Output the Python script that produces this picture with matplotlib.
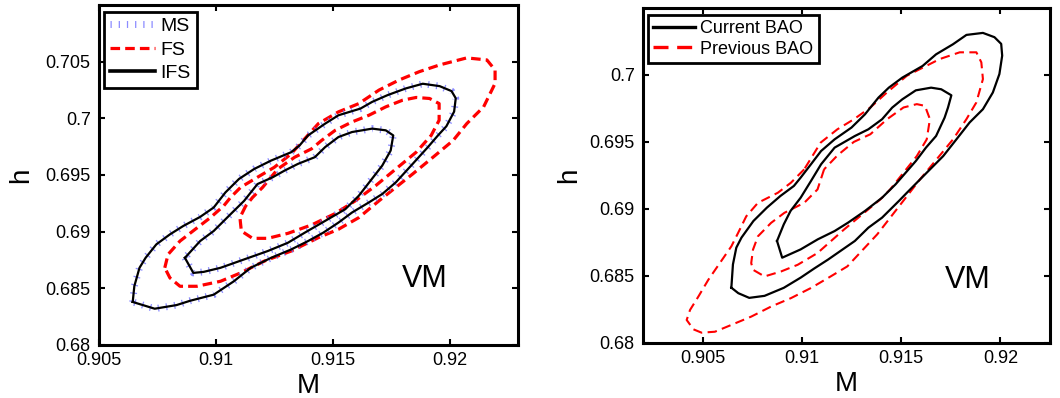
import matplotlib
matplotlib.use('Agg')
import matplotlib.pyplot as plt

plt.rcParams['font.family'] = ['Liberation Sans', 'DejaVu Sans']

# ---------------- Left panel data (M, h) ----------------
ifs_outer_M = [0.90644, 0.90651, 0.90673, 0.90699, 0.90745, 0.90803, 0.90860, 0.90932, 0.90990, 0.91040,
               0.91098, 0.91163, 0.91235, 0.91321, 0.91357, 0.91393, 0.91466, 0.91523, 0.91617, 0.91667,
               0.91732, 0.91811, 0.91883, 0.91955, 0.92006, 0.92024, 0.92017, 0.91984, 0.91948, 0.91905,
               0.91840, 0.91768, 0.91710, 0.91653, 0.91581, 0.91523, 0.91458, 0.91393, 0.91321, 0.91235,
               0.91148, 0.91076, 0.90990, 0.90889, 0.90831, 0.90738, 0.90659]
ifs_outer_h = [0.68380, 0.68520, 0.68681, 0.68769, 0.68888, 0.68976, 0.69050, 0.69130, 0.69213, 0.69346,
               0.69465, 0.69553, 0.69627, 0.69701, 0.69761, 0.69849, 0.69953, 0.70027, 0.70086, 0.70145,
               0.70204, 0.70264, 0.70305, 0.70284, 0.70240, 0.70177, 0.70059, 0.69930, 0.69849, 0.69746,
               0.69598, 0.69435, 0.69332, 0.69258, 0.69169, 0.69080, 0.68991, 0.68917, 0.68843, 0.68769,
               0.68681, 0.68562, 0.68444, 0.68390, 0.68352, 0.68320, 0.68370]

ifs_inner_M = [0.90867, 0.90903, 0.90947, 0.91019, 0.91120, 0.91221, 0.91307, 0.91379, 0.91466, 0.91552,
               0.91610, 0.91660, 0.91710, 0.91746, 0.91757, 0.91725, 0.91667, 0.91581, 0.91523, 0.91466,
               0.91422, 0.91350, 0.91293, 0.91242, 0.91177, 0.91120, 0.91062, 0.90990, 0.90932]
ifs_inner_h = [0.68769, 0.68636, 0.68645, 0.68681, 0.68755, 0.68829, 0.68902, 0.68991, 0.69095, 0.69198,
               0.69317, 0.69450, 0.69583, 0.69716, 0.69849, 0.69894, 0.69909, 0.69879, 0.69835, 0.69746,
               0.69657, 0.69598, 0.69539, 0.69480, 0.69420, 0.69272, 0.69154, 0.69006, 0.68917]

# MS contours coincide with IFS contours
ms_outer_M, ms_outer_h = ifs_outer_M, ifs_outer_h
ms_inner_M, ms_inner_h = ifs_inner_M, ifs_inner_h

fs_outer_M = [0.90781, 0.90795, 0.90846, 0.90911, 0.90976, 0.91033, 0.91062, 0.91105, 0.91177, 0.91249,
              0.91321, 0.91379, 0.91437, 0.91523, 0.91610, 0.91696, 0.91782, 0.91869, 0.91955, 0.92071,
              0.92157, 0.92192, 0.92192, 0.92143, 0.92071, 0.92013, 0.91927, 0.91840, 0.91768, 0.91696,
              0.91610, 0.91523, 0.91437, 0.91321, 0.91206, 0.91105, 0.91019, 0.90918, 0.90846, 0.90803]
fs_outer_h = [0.68681, 0.68799, 0.68917, 0.69021, 0.69124, 0.69228, 0.69302, 0.69391, 0.69480, 0.69568,
              0.69687, 0.69820, 0.69953, 0.70057, 0.70130, 0.70249, 0.70338, 0.70412, 0.70471, 0.70533,
              0.70515, 0.70426, 0.70308, 0.70101, 0.69953, 0.69805, 0.69657, 0.69509, 0.69391, 0.69272,
              0.69124, 0.69021, 0.68947, 0.68829, 0.68740, 0.68636, 0.68562, 0.68518, 0.68518, 0.68592]

fs_inner_M = [0.91127, 0.91102, 0.91108, 0.91156, 0.91221, 0.91307, 0.91408, 0.91509, 0.91595, 0.91682,
              0.91768, 0.91855, 0.91919, 0.91953, 0.91953, 0.91912, 0.91855, 0.91797, 0.91725, 0.91653,
              0.91581, 0.91509, 0.91451, 0.91408, 0.91336, 0.91264, 0.91199, 0.91156]
fs_inner_h = [0.69228, 0.69124, 0.69006, 0.68941, 0.68941, 0.68985, 0.69059, 0.69160, 0.69272, 0.69406,
              0.69553, 0.69701, 0.69849, 0.69983, 0.70130, 0.70175, 0.70184, 0.70160, 0.70101, 0.70027,
              0.69968, 0.69894, 0.69805, 0.69731, 0.69657, 0.69553, 0.69391, 0.69302]

# ---------------- Right panel data (M, h) ----------------
cur_outer_M = [0.90645, 0.90653, 0.90670, 0.90696, 0.90756, 0.90824, 0.90892, 0.90960, 0.90994, 0.91046,
               0.91097, 0.91165, 0.91250, 0.91318, 0.91386, 0.91438, 0.91506, 0.91608, 0.91676, 0.91761,
               0.91829, 0.91912, 0.91970, 0.92004, 0.92009, 0.91995, 0.91962, 0.91912, 0.91845, 0.91779,
               0.91712, 0.91629, 0.91529, 0.91489, 0.91404, 0.91335, 0.91267, 0.91199, 0.91131, 0.91063,
               0.90994, 0.90909, 0.90812, 0.90735, 0.90680]
cur_outer_h = [0.68411, 0.68585, 0.68710, 0.68785, 0.68909, 0.69009, 0.69096, 0.69171, 0.69233, 0.69333,
               0.69432, 0.69519, 0.69607, 0.69706, 0.69831, 0.69905, 0.69980, 0.70067, 0.70154, 0.70229,
               0.70299, 0.70314, 0.70282, 0.70232, 0.70144, 0.70007, 0.69869, 0.69744, 0.69645, 0.69520,
               0.69394, 0.69270, 0.69120, 0.69059, 0.68934, 0.68859, 0.68760, 0.68690, 0.68620, 0.68555,
               0.68486, 0.68410, 0.68350, 0.68335, 0.68370]

cur_inner_M = [0.90875, 0.90901, 0.90994, 0.91080, 0.91165, 0.91233, 0.91318, 0.91404, 0.91472, 0.91523,
               0.91574, 0.91625, 0.91676, 0.91719, 0.91736, 0.91753, 0.91702, 0.91651, 0.91574, 0.91506,
               0.91455, 0.91404, 0.91335, 0.91267, 0.91165, 0.91097, 0.91046, 0.90994, 0.90943, 0.90909]
cur_inner_h = [0.68760, 0.68635, 0.68697, 0.68772, 0.68834, 0.68897, 0.68984, 0.69083, 0.69183, 0.69270,
               0.69357, 0.69457, 0.69544, 0.69681, 0.69756, 0.69848, 0.69893, 0.69905, 0.69885, 0.69818,
               0.69756, 0.69669, 0.69594, 0.69544, 0.69457, 0.69333, 0.69208, 0.69083, 0.68984, 0.68884]

prev_outer_M = [0.91012, 0.90945, 0.90879, 0.90779, 0.90720, 0.90679, 0.90645, 0.90587, 0.90529, 0.90479,
                0.90437, 0.90420, 0.90454, 0.90495, 0.90562, 0.90645, 0.90745, 0.90845, 0.90945, 0.91045,
                0.91145, 0.91229, 0.91380, 0.91529, 0.91595, 0.91679, 0.91762, 0.91829, 0.91879, 0.91912,
                0.91904, 0.91879, 0.91795, 0.91695, 0.91595, 0.91529, 0.91429, 0.91345, 0.91262, 0.91179,
                0.91095]
prev_outer_h = [0.69295, 0.69195, 0.69120, 0.69045, 0.68944, 0.68820, 0.68720, 0.68595, 0.68470, 0.68345,
                0.68245, 0.68170, 0.68100, 0.68075, 0.68082, 0.68133, 0.68195, 0.68270, 0.68333, 0.68408,
                0.68495, 0.68570, 0.68810, 0.69094, 0.69220, 0.69370, 0.69520, 0.69670, 0.69795, 0.69969,
                0.70094, 0.70169, 0.70169, 0.70119, 0.70044, 0.69994, 0.69870, 0.69757, 0.69669, 0.69594,
                0.69495]

prev_inner_M = [0.91112, 0.91079, 0.91012, 0.90912, 0.90845, 0.90779, 0.90754, 0.90745, 0.90754, 0.90812,
                0.90895, 0.90979, 0.91079, 0.91212, 0.91395, 0.91445, 0.91512, 0.91579, 0.91629, 0.91645,
                0.91620, 0.91579, 0.91512, 0.91429, 0.91345, 0.91262, 0.91180]
prev_inner_h = [0.69295, 0.69145, 0.69045, 0.68970, 0.68895, 0.68795, 0.68695, 0.68595, 0.68545, 0.68495,
                0.68532, 0.68582, 0.68670, 0.68845, 0.69070, 0.69145, 0.69270, 0.69394, 0.69519, 0.69670,
                0.69769, 0.69782, 0.69757, 0.69669, 0.69557, 0.69500, 0.69400]

# ---------------- Ticks ----------------
left_xticks = [0.905, 0.91, 0.915, 0.92]
left_xticklabels = ['0.905', '0.91', '0.915', '0.92']
left_yticks = [0.68, 0.685, 0.69, 0.695, 0.70, 0.705]
left_yticklabels = ['0.68', '0.685', '0.69', '0.695', '0.7', '0.705']
right_xticks = [0.905, 0.91, 0.915, 0.92]
right_xticklabels = ['0.905', '0.91', '0.915', '0.92']
right_yticks = [0.68, 0.685, 0.69, 0.695, 0.70]
right_yticklabels = ['0.68', '0.685', '0.69', '0.695', '0.7']


def closed(a):
    return list(a) + [a[0]]


fig = plt.figure(figsize=(10.6, 3.98), dpi=100)
ax1 = fig.add_axes([0.0934, 0.1332, 0.3953, 0.8543])
ax2 = fig.add_axes([0.6066, 0.1389, 0.3840, 0.8410])

RED = '#ff0000'
BLUE = '#6f6fff'

# Left panel
fs_kw = dict(color=RED, lw=2.3, dashes=(3.0, 1.6), zorder=2)
ax1.plot(closed(fs_outer_M), closed(fs_outer_h), label='FS', **fs_kw)
ax1.plot(closed(fs_inner_M), closed(fs_inner_h), **fs_kw)
ms_kw = dict(color=BLUE, lw=5.0, dashes=(0.18, 1.0), alpha=0.8, zorder=3)
ax1.plot(closed(ms_outer_M), closed(ms_outer_h), label='MS', **ms_kw)
ax1.plot(closed(ms_inner_M), closed(ms_inner_h), **ms_kw)
ifs_kw = dict(color='black', lw=1.6, zorder=4)
ax1.plot(closed(ifs_outer_M), closed(ifs_outer_h), label='IFS', **ifs_kw)
ax1.plot(closed(ifs_inner_M), closed(ifs_inner_h), **ifs_kw)

ax1.set_xlim(0.905, 0.9229)
ax1.set_ylim(0.68, 0.710)
ax1.set_xticks(left_xticks)
ax1.set_xticklabels(left_xticklabels)
ax1.set_yticks(left_yticks)
ax1.set_yticklabels(left_yticklabels)
ax1.text(0.91891, 0.68586, 'VM', fontsize=22, ha='center', va='center')

h1, l1 = ax1.get_legend_handles_labels()
order = [l1.index('MS'), l1.index('FS'), l1.index('IFS')]
leg1 = ax1.legend([h1[i] for i in order], [l1[i] for i in order], loc='upper left',
                  bbox_to_anchor=(0.012, 0.98), borderaxespad=0, fontsize=14, handlelength=2.3,
                  handletextpad=0.3, labelspacing=0.3, borderpad=0.3, fancybox=False, framealpha=1)
leg1.get_frame().set_edgecolor('black')
leg1.get_frame().set_linewidth(2.0)
for ln in leg1.get_lines():
    if ln.get_label() == 'IFS':
        ln.set_linewidth(2.6)

# Right panel
ax2.plot(closed(cur_outer_M), closed(cur_outer_h), color='black', lw=1.6, label='Current BAO', zorder=3)
ax2.plot(closed(cur_inner_M), closed(cur_inner_h), color='black', lw=1.6, zorder=3)
prev_kw = dict(color=RED, lw=1.5, dashes=(4.5, 2.6), zorder=2)
ax2.plot(closed(prev_outer_M), closed(prev_outer_h), label='Previous BAO', **prev_kw)
ax2.plot(closed(prev_inner_M), closed(prev_inner_h), **prev_kw)

ax2.set_xlim(0.902, 0.9225)
ax2.set_ylim(0.68, 0.705)
ax2.set_xticks(right_xticks)
ax2.set_xticklabels(right_xticklabels)
ax2.set_yticks(right_yticks)
ax2.set_yticklabels(right_yticklabels)
ax2.text(0.91833, 0.68468, 'VM', fontsize=22, ha='center', va='center')

leg2 = ax2.legend(loc='upper left', bbox_to_anchor=(0.012, 0.98), borderaxespad=0, fontsize=13,
                  handlelength=2.3, handletextpad=0.3, labelspacing=0.2, borderpad=0.3,
                  fancybox=False, framealpha=1)
leg2.get_frame().set_edgecolor('black')
leg2.get_frame().set_linewidth(2.0)
for ln in leg2.get_lines():
    ln.set_linewidth(2.4)

for ax in (ax1, ax2):
    for sp in ax.spines.values():
        sp.set_linewidth(2.2)
    ax.tick_params(direction='in', top=True, right=True, length=4, width=1.5, labelsize=13)
    ax.tick_params(axis='x', pad=5)
    ax.tick_params(axis='y', pad=6)
    ax.set_xlabel('M', fontsize=20, labelpad=3)
ax1.set_ylabel('h', fontsize=20, labelpad=8)
ax2.set_ylabel('h', fontsize=20, labelpad=5)

fig.savefig('out.png', dpi=100)
